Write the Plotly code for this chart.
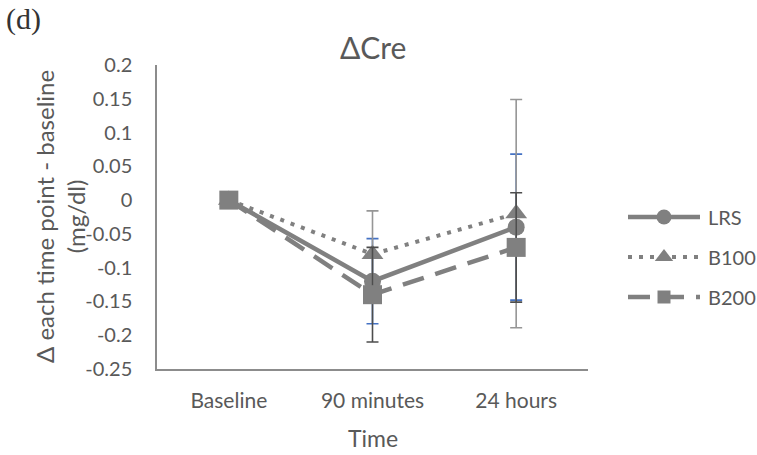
import plotly.graph_objects as go

# Change in creatinine from baseline, per group
time_points = ["Baseline", "90 minutes", "24 hours"]
lrs = [0.0, -0.12, -0.04]
b100 = [0.0, -0.08, -0.02]
b200 = [0.0, -0.14, -0.07]

# Error bar half-lengths (no bar at baseline)
lrs_err = [None, 0.063, 0.108]
b100_err = [None, 0.064, 0.169]
b200_err = [None, 0.070, 0.081]

y_ticks = [0.2, 0.15, 0.1, 0.05, 0, -0.05, -0.1, -0.15, -0.2, -0.25]
y_tick_text = ["0.2", "0.15", "0.1", "0.05", "0", "-0.05", "-0.1", "-0.15", "-0.2", "-0.25"]

W, H = 757, 455
FONT = "Lato"
TXT = "#595959"
SERIES = "#808080"

series = [
    dict(name="LRS", y=lrs, err=lrs_err, dash="solid", width=4.5,
         symbol="circle", size=17, ecolor="#4472C4"),
    dict(name="B100", y=b100, err=b100_err, dash="4px,7px", width=4,
         symbol="triangle-up", size=19, ecolor="#969696"),
    dict(name="B200", y=b200, err=b200_err, dash="22px,12px", width=4.5,
         symbol="square", size=19, ecolor="#4d4d4d"),
]

fig = go.Figure()

for s in series:
    fig.add_trace(go.Scatter(
        x=time_points, y=s["y"], name=s["name"], mode="lines+markers",
        line=dict(color=SERIES, width=s["width"], dash=s["dash"]),
        marker=dict(symbol=s["symbol"], size=s["size"], color=SERIES),
        error_y=dict(type="data", array=s["err"], symmetric=True,
                     color=s["ecolor"], thickness=1.6, width=6),
        showlegend=False,
    ))

# Hand-drawn legend on a pixel-space axis covering the whole figure
leg_rows = [217, 257, 297]
leg_x0, leg_x1, leg_mid = 628, 700, 664
leg_sizes = [15, 16, 13]
for s, row, msz in zip(series, leg_rows, leg_sizes):
    fig.add_trace(go.Scatter(
        x=[leg_x0, leg_x1], y=[row, row], mode="lines",
        line=dict(color=SERIES, width=s["width"], dash=s["dash"]),
        xaxis="x2", yaxis="y2", showlegend=False, hoverinfo="skip",
    ))
    fig.add_trace(go.Scatter(
        x=[leg_mid], y=[row], mode="markers",
        marker=dict(symbol=s["symbol"], size=msz, color=SERIES),
        xaxis="x2", yaxis="y2", showlegend=False, hoverinfo="skip",
    ))
    fig.add_annotation(
        x=706, y=row, xref="x2", yref="y2", text=s["name"], showarrow=False,
        xanchor="left", yanchor="middle", font=dict(family=FONT, size=20, color=TXT),
    )

px_x = lambda p: p / W
px_y = lambda p: 1 - p / H

fig.update_layout(
    width=W, height=H,
    margin=dict(l=0, r=0, t=0, b=0, autoexpand=False),
    paper_bgcolor="white", plot_bgcolor="rgba(0,0,0,0)",
    xaxis=dict(
        domain=[px_x(157), px_x(588)], type="category", range=[-0.5, 2.5],
        showgrid=False, zeroline=False, showline=True, linecolor="#8c8c8c", linewidth=1.5,
        ticks="", ticklabelstandoff=12, anchor="y", automargin=False,
        tickfont=dict(family=FONT, size=21, color=TXT),
    ),
    yaxis=dict(
        domain=[px_y(369), px_y(65)], range=[-0.25, 0.2],
        tickvals=y_ticks, ticktext=y_tick_text, anchor="x", automargin=False,
        showgrid=False, zeroline=False, showline=True, linecolor="#8c8c8c", linewidth=1.5,
        ticks="", ticklabelstandoff=19,
        tickfont=dict(family=FONT, size=20, color=TXT),
    ),
    xaxis2=dict(domain=[0, 1], range=[0, W], visible=False, anchor="y2", automargin=False),
    yaxis2=dict(domain=[0, 1], range=[H, 0], visible=False, anchor="x2", automargin=False),
)

# Titles and panel label
def label(x, y, text, size, **kw):
    fig.add_annotation(x=px_x(x), y=px_y(y), xref="paper", yref="paper", text=text,
                       showarrow=False, xanchor="center", yanchor="middle", **kw,
                       font=dict(family=FONT, size=size, color=TXT))

label(373, 47, "ΔCre", 30)
label(373, 438, "Time", 23)
label(60, 217, "Δ each time point - baseline<br>(mg/dl)", 24, textangle=-90)
fig.add_annotation(x=px_x(4), y=px_y(19), xref="paper", yref="paper", text="(d)",
                   xanchor="left", yanchor="middle", showarrow=False,
                   font=dict(family="Liberation Serif", size=30, color="#333333"))

fig.write_html("out.html")
